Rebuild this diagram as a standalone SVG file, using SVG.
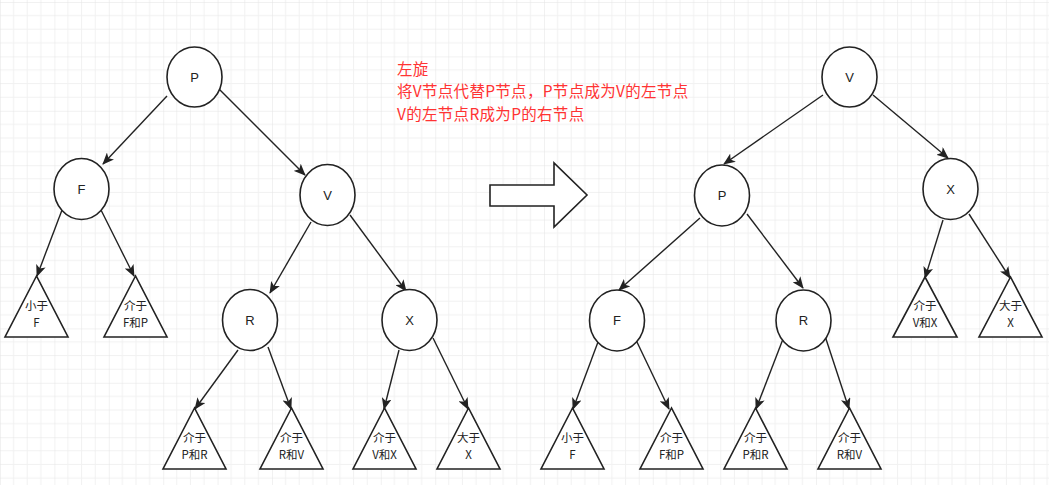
<svg xmlns="http://www.w3.org/2000/svg" width="1049" height="485" viewBox="0 0 1049 485">
<defs>
<pattern id="grid" x="0" y="2" width="54.4" height="54.4" patternUnits="userSpaceOnUse">
<path d="M13.6 0V54.4M27.2 0V54.4M40.8 0V54.4M0 13.6H54.4M0 27.2H54.4M0 40.8H54.4" stroke="#f1f1f1" stroke-width="1" fill="none"/>
<path d="M0 0V54.4M0 0H54.4" stroke="#e4e4e4" stroke-width="1" fill="none"/>
</pattern>
<marker id="ah" markerWidth="12" markerHeight="10" refX="11" refY="5" orient="auto" markerUnits="userSpaceOnUse">
<path d="M0 0L12 5L0 10L3 5Z" fill="#222"/>
</marker>
<style>
.n{fill:#fff;stroke:#222;stroke-width:1.6}
.e{stroke:#222;stroke-width:1.4;fill:none;marker-end:url(#ah)}
.t{font-family:"Liberation Sans","Noto Sans CJK SC",sans-serif;font-size:13px;fill:#222;text-anchor:middle}
.c{font-family:"Noto Sans CJK SC",sans-serif;font-size:11.5px;fill:#222;text-anchor:middle}
.r{font-family:"Noto Sans CJK SC",sans-serif;font-size:15.5px;fill:#ff3333;letter-spacing:0.3px}
</style>
</defs>
<rect width="1049" height="485" fill="#fff"/>
<rect width="1049" height="485" fill="url(#grid)"/>
<g id="connectors">
<line class="e" x1="167" y1="96" x2="103" y2="164"/>
<line class="e" x1="217" y1="87" x2="305" y2="175"/>
<line class="e" x1="62" y1="210" x2="37" y2="276"/>
<line class="e" x1="100" y1="208" x2="134" y2="276"/>
<line class="e" x1="311" y1="222" x2="270" y2="293"/>
<line class="e" x1="350" y1="215" x2="406" y2="291"/>
<line class="e" x1="238" y1="350" x2="195" y2="409"/>
<line class="e" x1="268" y1="347" x2="291" y2="409"/>
<line class="e" x1="399" y1="350" x2="384" y2="409"/>
<line class="e" x1="433" y1="338" x2="468" y2="409"/>
<line class="e" x1="823" y1="95" x2="724" y2="164"/>
<line class="e" x1="873" y1="95" x2="948" y2="158"/>
<line class="e" x1="700" y1="218" x2="619" y2="290"/>
<line class="e" x1="747" y1="214" x2="803" y2="288"/>
<line class="e" x1="943" y1="220" x2="925" y2="278"/>
<line class="e" x1="969" y1="214" x2="1010" y2="278"/>
<line class="e" x1="598" y1="342" x2="573" y2="409"/>
<line class="e" x1="636" y1="340" x2="669" y2="409"/>
<line class="e" x1="783" y1="339" x2="756" y2="409"/>
<line class="e" x1="825" y1="336" x2="849" y2="409"/>
</g>
<g id="L_P"><ellipse class="n" cx="194.5" cy="77" rx="27.5" ry="30"/><text class="t" x="194.5" y="82">P</text></g>
<g id="L_F"><ellipse class="n" cx="81.5" cy="189" rx="27.5" ry="30.5"/><text class="t" x="81.5" y="194">F</text></g>
<g id="L_V"><ellipse class="n" cx="327.5" cy="195" rx="27.5" ry="30.5"/><text class="t" x="327.5" y="200">V</text></g>
<g id="L_R"><ellipse class="n" cx="250" cy="320" rx="27.5" ry="30.5"/><text class="t" x="250" y="325">R</text></g>
<g id="L_X"><ellipse class="n" cx="409.5" cy="320" rx="27.5" ry="30.5"/><text class="t" x="409.5" y="325">X</text></g>
<g id="L_t1"><polygon class="n" points="36.5,276 5,337 68,337"/><text class="c" x="36.5" y="310">小于</text><text class="c" x="36.5" y="327">F</text></g>
<g id="L_t2"><polygon class="n" points="135.5,276 104,337 167,337"/><text class="c" x="135.5" y="310">介于</text><text class="c" x="135.5" y="327">F和P</text></g>
<g id="L_t3"><polygon class="n" points="194.5,408 163,469 226,469"/><text class="c" x="194.5" y="442">介于</text><text class="c" x="194.5" y="459">P和R</text></g>
<g id="L_t4"><polygon class="n" points="291.5,408 260,469 323,469"/><text class="c" x="291.5" y="442">介于</text><text class="c" x="291.5" y="459">R和V</text></g>
<g id="L_t5"><polygon class="n" points="384.5,408 353,469 416,469"/><text class="c" x="384.5" y="442">介于</text><text class="c" x="384.5" y="459">V和X</text></g>
<g id="L_t6"><polygon class="n" points="468.5,408 437,469 500,469"/><text class="c" x="468.5" y="442">大于</text><text class="c" x="468.5" y="459">X</text></g>
<g id="arrow"><polygon class="n" points="490,185 554,185 554,163 587,195 554,227 554,206 490,206"/></g>
<g id="note"><text class="r" x="397" y="75">左旋</text><text class="r" x="397" y="97">将V节点代替P节点，P节点成为V的左节点</text><text class="r" x="397" y="120">V的左节点R成为P的右节点</text></g>
<g id="R_V"><ellipse class="n" cx="849.5" cy="77" rx="27.5" ry="30"/><text class="t" x="849.5" y="82">V</text></g>
<g id="R_P"><ellipse class="n" cx="722" cy="195.5" rx="27.5" ry="30.5"/><text class="t" x="722" y="200">P</text></g>
<g id="R_X"><ellipse class="n" cx="950.5" cy="189" rx="27.5" ry="30.5"/><text class="t" x="950.5" y="194">X</text></g>
<g id="R_F"><ellipse class="n" cx="617" cy="320.5" rx="27.5" ry="30.5"/><text class="t" x="617" y="325">F</text></g>
<g id="R_R"><ellipse class="n" cx="803.5" cy="320.5" rx="27.5" ry="30.5"/><text class="t" x="803.5" y="325">R</text></g>
<g id="R_t1"><polygon class="n" points="925,277 893,337 957,337"/><text class="c" x="925" y="310">介于</text><text class="c" x="925" y="327">V和X</text></g>
<g id="R_t2"><polygon class="n" points="1010.5,277 979,337 1042,337"/><text class="c" x="1010.5" y="310">大于</text><text class="c" x="1010.5" y="327">X</text></g>
<g id="R_t3"><polygon class="n" points="572.5,408 541,469 604,469"/><text class="c" x="572.5" y="442">小于</text><text class="c" x="572.5" y="459">F</text></g>
<g id="R_t4"><polygon class="n" points="671.5,408 640,469 703,469"/><text class="c" x="671.5" y="442">介于</text><text class="c" x="671.5" y="459">F和P</text></g>
<g id="R_t5"><polygon class="n" points="755.5,408 724,469 787,469"/><text class="c" x="755.5" y="442">介于</text><text class="c" x="755.5" y="459">P和R</text></g>
<g id="R_t6"><polygon class="n" points="849.5,408 818,469 881,469"/><text class="c" x="849.5" y="442">介于</text><text class="c" x="849.5" y="459">R和V</text></g>
</svg>
